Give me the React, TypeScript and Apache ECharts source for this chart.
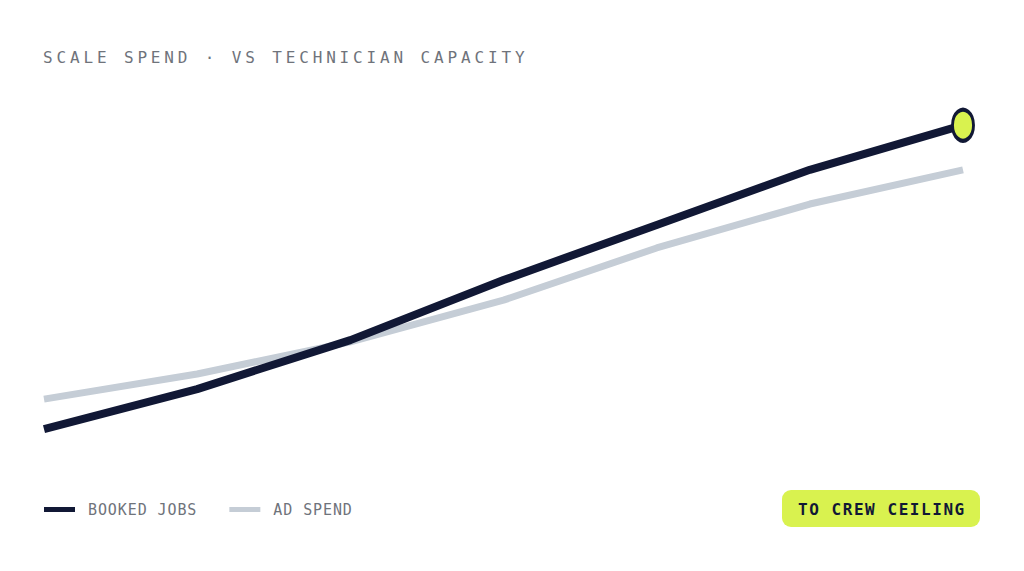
import React, { useEffect, useRef } from "react";
import * as echarts from "echarts";

const periods = ["P1", "P2", "P3", "P4", "P5", "P6", "P7"];
const bookedJobs = [8.6, 19.7, 33.3, 50.0, 65.3, 80.6, 93.0];
const adSpend = [16.9, 23.9, 32.8, 44.4, 58.9, 71.1, 80.6];
const titleText = "SCALE SPEND · VS TECHNICIAN CAPACITY";
const badgeText = "TO CREW CEILING";
const legendNames = ["BOOKED JOBS", "AD SPEND"];

const NAVY = "#111835";
const GREY = "#c5cdd6";
const LIME = "#d9f24f";
const MONO = "'DejaVu Sans Mono', 'Liberation Mono', monospace";

const spacingFor = (t: string): number | null => {
  if (t === titleText) return 3.85;
  if (t === badgeText) return 1.55;
  if (legendNames.includes(t)) return 0.9;
  return null;
};

export default function App() {
  const ref = useRef<HTMLDivElement>(null);
  useEffect(() => {
    document.body.style.margin = "0";
    const chart = echarts.init(ref.current!, null, { renderer: "svg" });
    const applySpacing = () => {
      const texts = ref.current?.querySelectorAll("text") || [];
      texts.forEach((el) => {
        const s = spacingFor((el.textContent || "").trim());
        if (s !== null) el.setAttribute("letter-spacing", String(s));
      });
    };
    chart.on("finished", applySpacing);
    chart.setOption({
      animation: false,
      backgroundColor: "#ffffff",
      title: {
        text: titleText,
        left: 43,
        top: 49,
        padding: 0,
        textStyle: {
          fontFamily: MONO,
          fontSize: 16,
          fontWeight: "normal",
          color: "#6f737b",
        },
      },
      legend: {
        left: 44,
        top: 502,
        padding: 0,
        icon: "rect",
        itemWidth: 31,
        itemHeight: 5,
        itemGap: 42,
        textStyle: {
          fontFamily: MONO,
          fontSize: 15,
          color: "#6f737b",
          padding: [0, 0, 0, 8],
        },
        data: legendNames,
      },
      grid: { left: 44, right: 61, top: 100, bottom: 111 },
      xAxis: {
        type: "category",
        data: periods,
        boundaryGap: false,
        show: false,
      },
      yAxis: { type: "value", min: 0, max: 100, show: false },
      series: [
        {
          name: "AD SPEND",
          type: "line",
          data: adSpend,
          showSymbol: false,
          color: GREY,
          lineStyle: { color: GREY, width: 7, cap: "butt", join: "round" },
          z: 2,
        },
        {
          name: "BOOKED JOBS",
          type: "line",
          data: bookedJobs,
          showSymbol: false,
          color: NAVY,
          lineStyle: { color: NAVY, width: 8, cap: "butt", join: "round" },
          z: 3,
          markPoint: {
            symbol: "circle",
            symbolSize: [21, 31],
            label: { show: false },
            itemStyle: { color: LIME, borderColor: NAVY, borderWidth: 3.5 },
            data: [{ coord: [periods.length - 1, bookedJobs[bookedJobs.length - 1]] }],
          },
        },
      ],
      graphic: [
        {
          type: "group",
          left: 782,
          top: 490,
          children: [
            {
              type: "rect",
              shape: { x: 0, y: 0, width: 198, height: 37, r: 9 },
              style: { fill: LIME },
            },
            {
              type: "text",
              x: 16,
              y: 19,
              style: {
                text: badgeText,
                fill: NAVY,
                font: `bold 16px ${MONO}`,
                textAlign: "left",
                textVerticalAlign: "middle",
              },
            },
          ],
        },
      ],
    });
    applySpacing();
    return () => chart.dispose();
  }, []);
  return <div ref={ref} style={{ width: 1024, height: 571 }} />;
}
